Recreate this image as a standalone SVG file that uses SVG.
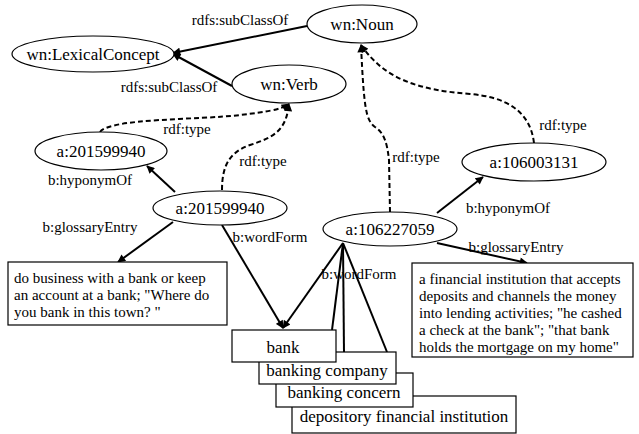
<svg xmlns="http://www.w3.org/2000/svg" width="639" height="434" viewBox="0 0 639 434">
<style>
.n{fill:#fff;stroke:#000;stroke-width:1.2}
.t{font-family:'Liberation Serif','Times New Roman','DejaVu Serif',serif;font-size:17px;fill:#000;text-anchor:middle}
.l{font-family:'Liberation Serif','Times New Roman','DejaVu Serif',serif;font-size:15px;fill:#000;text-anchor:middle}
.g{font-family:'Liberation Serif','Times New Roman','DejaVu Serif',serif;font-size:15px;fill:#000}
.e{fill:none;stroke:#000;stroke-width:2}
.d{fill:none;stroke:#000;stroke-width:2;stroke-dasharray:5,3}
</style>
<defs>
<marker id="ah" viewBox="0 0 10 10" refX="9" refY="5" markerWidth="10" markerHeight="8" orient="auto" markerUnits="userSpaceOnUse"><path d="M0,0 L10,5 L0,10 z" fill="#000"/></marker>
</defs>
<g id="connectors">
<path class="e" d="M307,26 L173,53" marker-end="url(#ah)"/>
<path class="e" d="M232,86 L173,54" marker-end="url(#ah)"/>
<path class="d" d="M100,132 C110,118 200,120 240,115 C265,112 280,110 289,104" marker-end="url(#ah)"/>
<path class="d" d="M222,190 C222,165 230,152 250,145 C275,137 286,130 289,104" marker-end="url(#ah)"/>
<path class="d" d="M390,212 L389,160 C387,142 384,133 375,127 C366,120 364,110 361,45" marker-end="url(#ah)"/>
<path class="d" d="M534,143 C530,110 505,97 470,94 C420,90 385,80 361,45" marker-end="url(#ah)"/>
<path class="e" d="M175,192 L147,166" marker-end="url(#ah)"/>
<path class="e" d="M173,222 L118,262" marker-end="url(#ah)"/>
<path class="e" d="M222,225 L283,328" marker-end="url(#ah)"/>
<path class="e" d="M343,243 L283,328" marker-end="url(#ah)"/>
<path class="e" d="M343,243 L332,330"/>
<path class="e" d="M343,243 L344,352"/>
<path class="e" d="M343,243 L387,352"/>
<path class="e" d="M437,213 L483,177" marker-end="url(#ah)"/>
<path class="e" d="M437,243 L527,263" marker-end="url(#ah)"/>
<text class="l" x="240" y="25">rdfs:subClassOf</text>
<text class="l" x="169" y="92">rdfs:subClassOf</text>
<text class="l" x="187" y="134">rdf:type</text>
<text class="l" x="263" y="166">rdf:type</text>
<text class="l" x="416" y="162">rdf:type</text>
<text class="l" x="563" y="130">rdf:type</text>
<text class="l" x="90" y="185">b:hyponymOf</text>
<text class="l" x="90" y="232">b:glossaryEntry</text>
<text class="l" x="270" y="242">b:wordForm</text>
<text class="l" x="359" y="279">b:wordForm</text>
<text class="l" x="508" y="213">b:hyponymOf</text>
<text class="l" x="516" y="252">b:glossaryEntry</text>
</g>
<g id="noun"><ellipse class="n" cx="362" cy="24" rx="55" ry="19"/><text class="t" x="362" y="30">wn:Noun</text></g>
<g id="lexicalconcept"><ellipse class="n" cx="93" cy="54" rx="81" ry="18"/><text class="t" x="93" y="60">wn:LexicalConcept</text></g>
<g id="verb"><ellipse class="n" cx="289" cy="84" rx="57" ry="19"/><text class="t" x="289" y="90">wn:Verb</text></g>
<g id="a201599940-hyper"><ellipse class="n" cx="101" cy="151" rx="66" ry="19"/><text class="t" x="101" y="157">a:201599940</text></g>
<g id="a201599940"><ellipse class="n" cx="220" cy="208" rx="67" ry="17"/><text class="t" x="220" y="214">a:201599940</text></g>
<g id="a106003131"><ellipse class="n" cx="534" cy="162" rx="72" ry="19"/><text class="t" x="534" y="168">a:106003131</text></g>
<g id="a106227059"><ellipse class="n" cx="390" cy="229" rx="67" ry="17"/><text class="t" x="390" y="235">a:106227059</text></g>
<g id="gloss1"><rect class="n" x="8" y="262" width="219" height="63"/>
<text class="g" x="14" y="283">do business with a bank or keep</text>
<text class="g" x="14" y="300">an account at a bank; "Where do</text>
<text class="g" x="14" y="317">you bank in this town? "</text></g>
<g id="gloss2"><rect class="n" x="412" y="263" width="221" height="94"/>
<text class="g" x="419" y="284">a financial institution that accepts</text>
<text class="g" x="419" y="301">deposits and channels the money</text>
<text class="g" x="419" y="318">into lending activities; "he cashed</text>
<text class="g" x="419" y="335">a check at the bank"; "that bank</text>
<text class="g" x="419" y="352">holds the mortgage on my home"</text></g>
<g id="depository"><rect class="n" x="292" y="396" width="224" height="37"/><text class="t" x="404" y="422">depository financial institution</text></g>
<g id="concern"><rect class="n" x="276" y="373" width="137" height="34"/><text class="t" x="344" y="398">banking concern</text></g>
<g id="company"><rect class="n" x="259" y="352" width="137" height="32"/><text class="t" x="327" y="376">banking company</text></g>
<g id="bank"><rect class="n" x="232" y="330" width="104" height="32"/><text class="t" x="283" y="353">bank</text></g>
</svg>
